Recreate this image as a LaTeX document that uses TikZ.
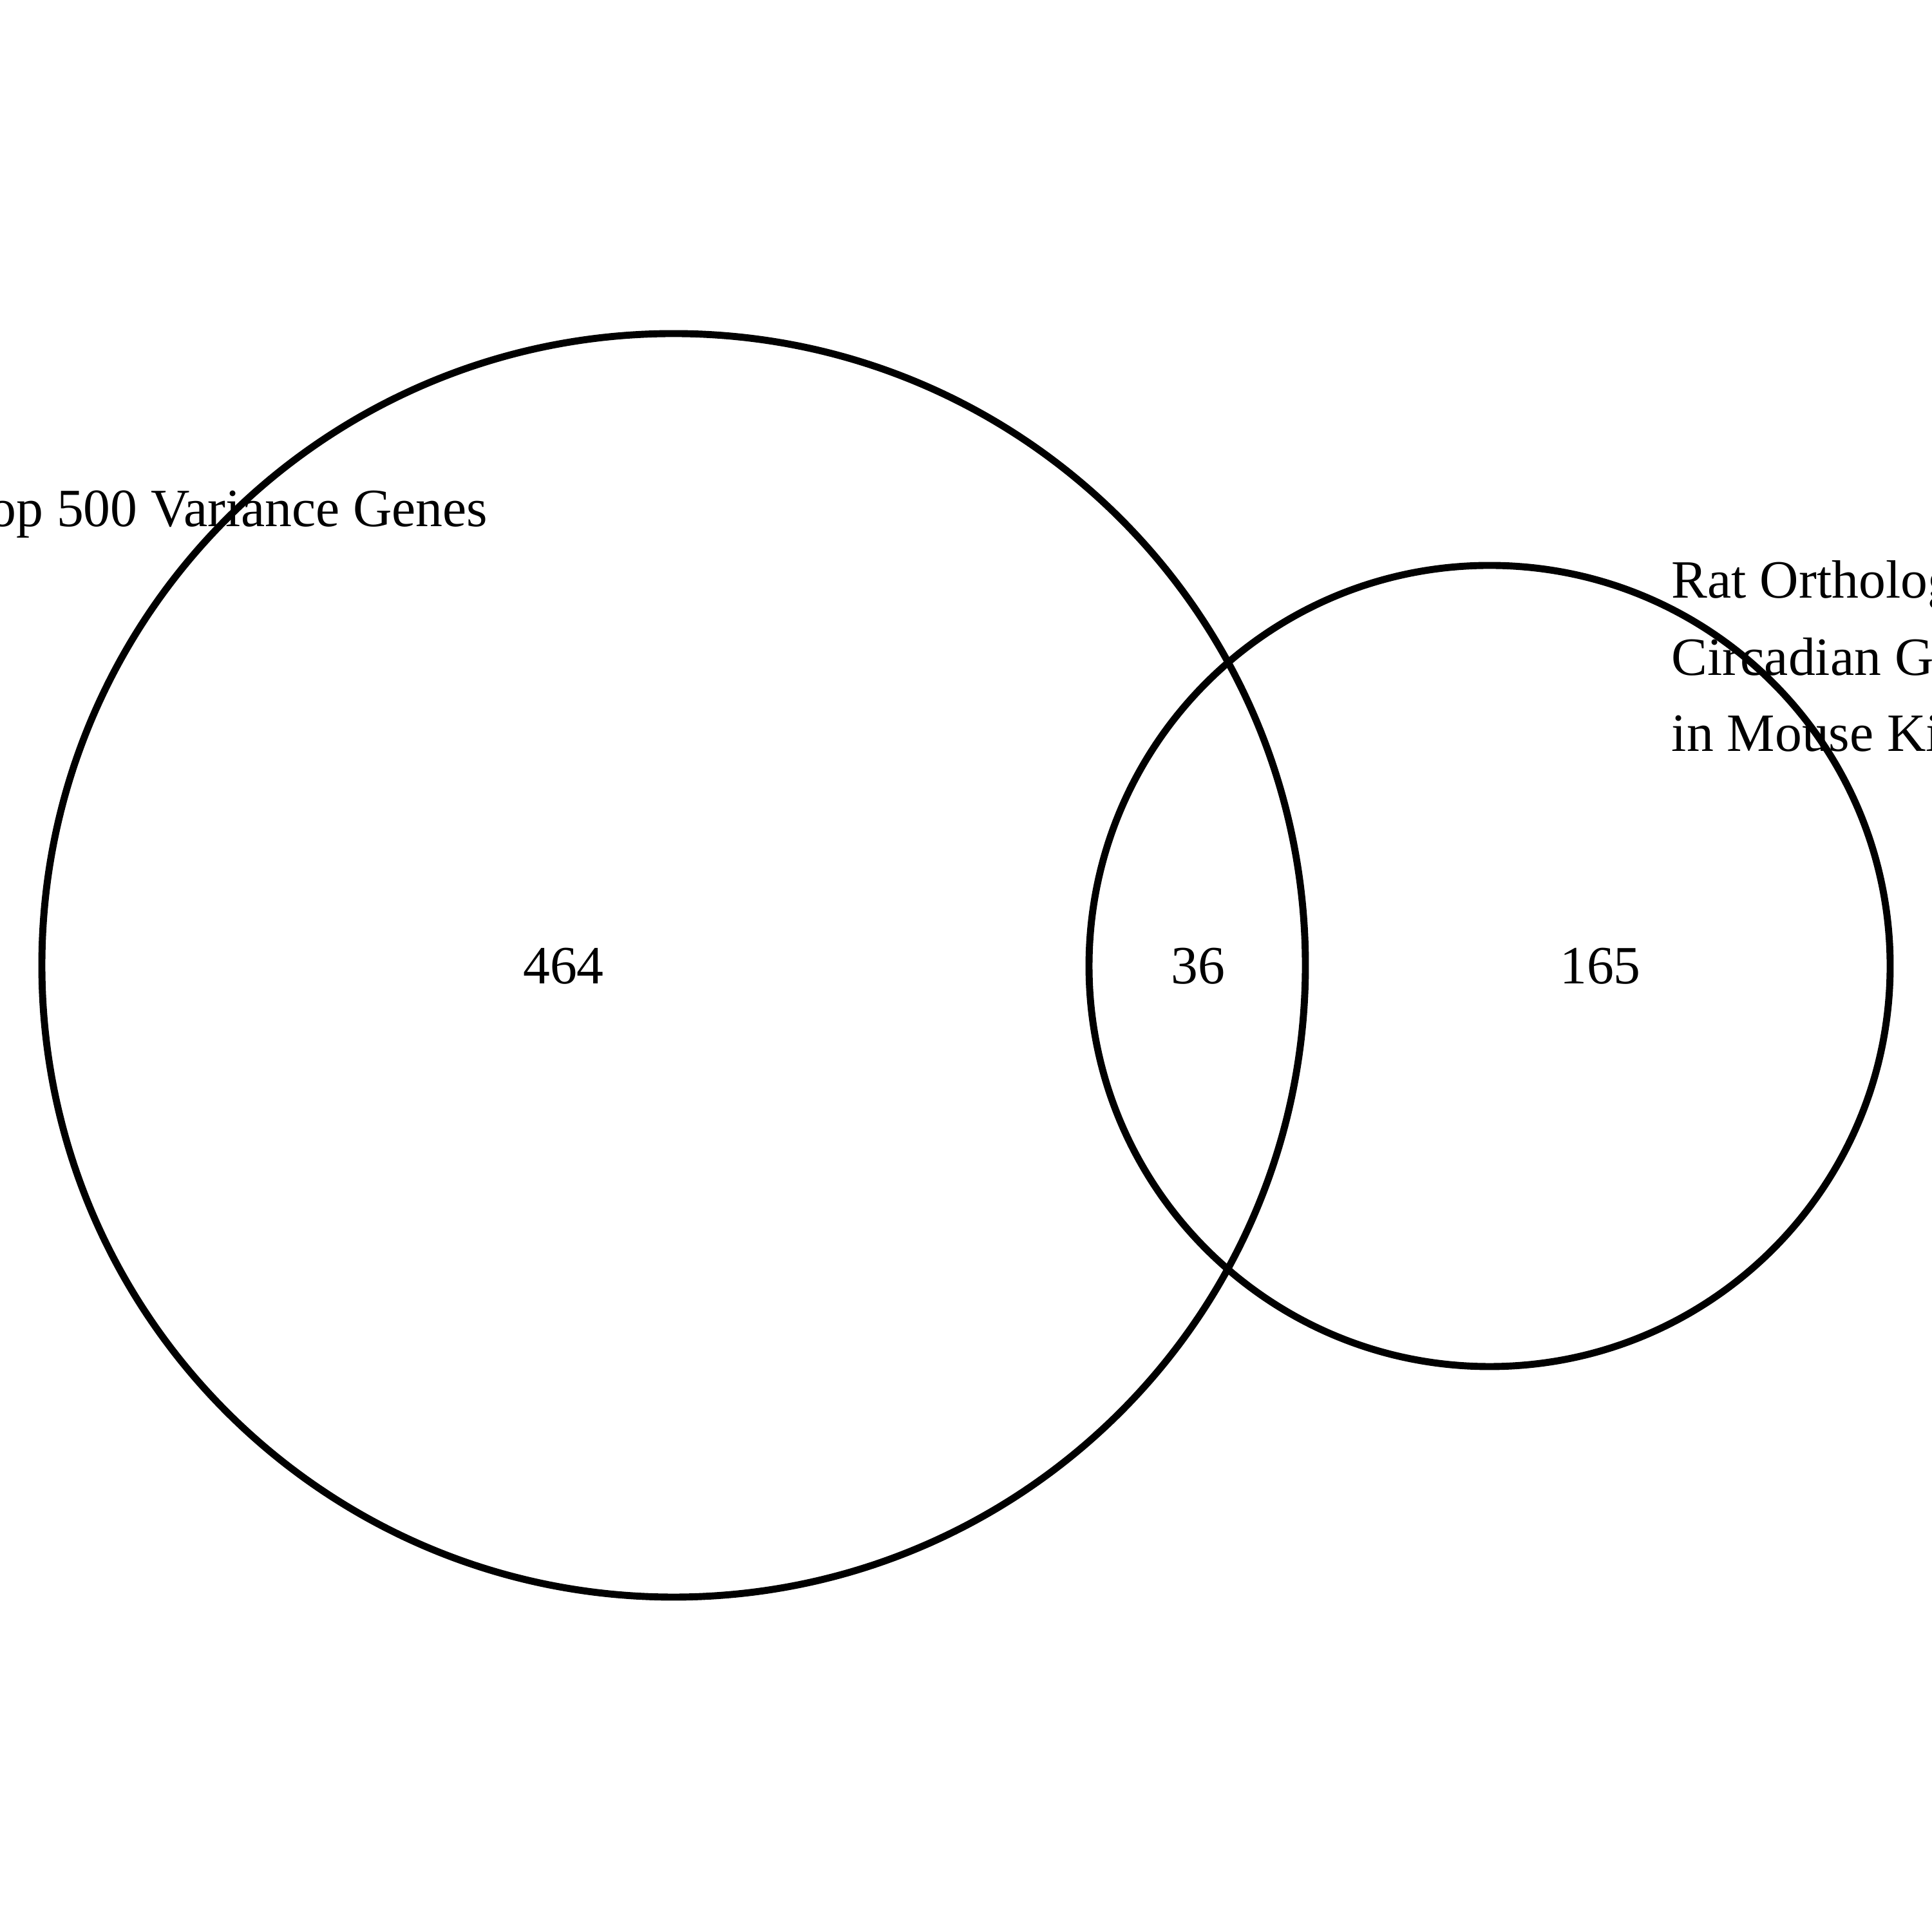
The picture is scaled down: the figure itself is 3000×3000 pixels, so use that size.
\documentclass[tikz,border=0pt]{standalone}
\usepackage{fontspec}
\setmainfont{Liberation Serif}
\begin{document}
\begin{tikzpicture}[x=0.01cm,y=0.01cm,
  setcircle/.style={draw=black,line width=3.1pt},
  setlabel/.style={inner sep=0pt,font=\fontsize{23.8}{34}\selectfont},
  countlabel/.style={inner sep=0pt,anchor=base,font=\fontsize{23.8}{34}\selectfont}]
  \useasboundingbox (0,0) rectangle (3000,3000);
  \clip (0,0) rectangle (3000,3000);
  % the two sets
  \draw[setcircle] (1046,1501) circle[radius=981];
  \draw[setcircle] (2313,1500) circle[radius=622];
  % region counts
  \node[countlabel] (onlyA) at (875,1472) {464};
  \node[countlabel] (both)  at (1860,1472) {36};
  \node[countlabel] (onlyB) at (2485,1472) {165};
  % set names
  \node[setlabel,anchor=base east] (nameA) at (758,2182) {Top 500 Variance Genes};
  \node[setlabel,anchor=base west] (nameB1) at (2595,2071) {Rat Orthologs of};
  \node[setlabel,anchor=base west] (nameB2) at (2595,1951) {Circadian Genes};
  \node[setlabel,anchor=base west] (nameB3) at (2595,1833) {in Mouse Kidney};
\end{tikzpicture}
\end{document}
